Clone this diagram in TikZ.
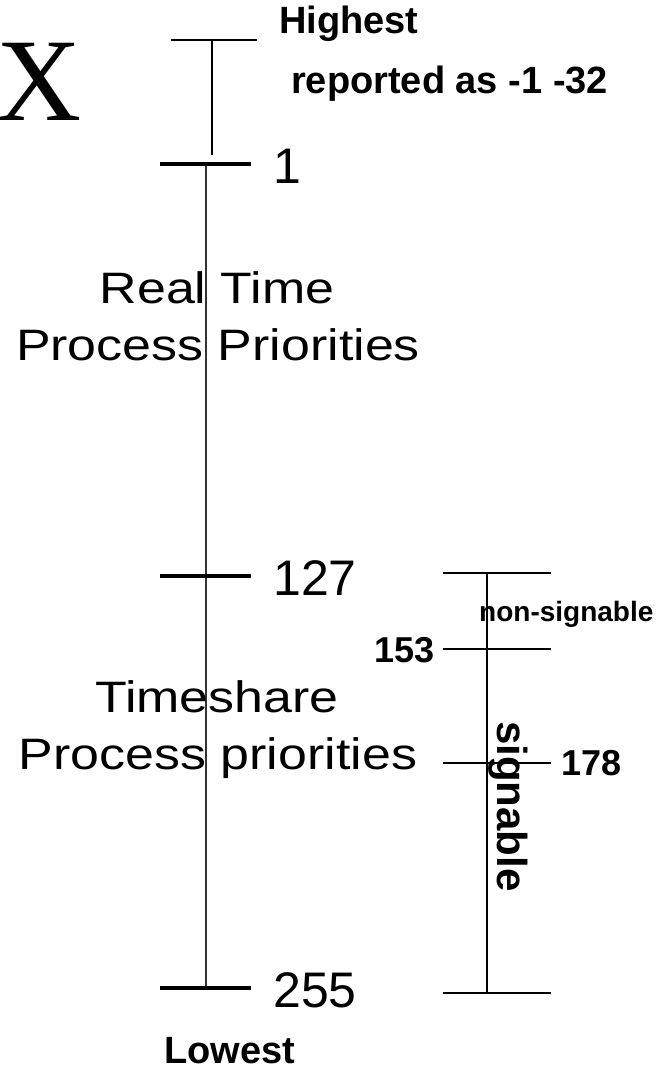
\documentclass[tikz,border=0pt]{standalone}
\usepackage{fontspec}
\usepackage{graphicx}
\setmainfont{Liberation Sans}
\newfontfamily\serifX{Liberation Serif}
\newcommand{\widen}[1]{\scalebox{1.18}[1]{#1}}

\begin{document}
\begin{tikzpicture}[x=1pt, y=-1pt,
    tickmark/.style={line width=3.5pt},
    bar/.style={line width=1.6pt},
    numlabel/.style={anchor=west, inner sep=0pt, font=\fontsize{50}{50}\selectfont},
    caption/.style={anchor=base, inner sep=0pt, font=\fontsize{44}{44}\selectfont},
    boldlabel/.style={inner sep=0pt, font=\bfseries\fontsize{38}{38}\selectfont}]
    \useasboundingbox (0,0) rectangle (666,1072);
    \node[anchor=base west, inner sep=0pt, font=\serifX\fontsize{118}{118}\selectfont] (bigX) at (-4,120) {X};
    % Highest
    \coordinate (hiL) at (171,40);
    \coordinate (hiR) at (257,40);
    \coordinate (hiTop) at (212,40);
    \coordinate (hiBot) at (212,155);
    \draw[bar] (hiL) -- (hiR);
    \draw[line width=2pt] (hiTop) -- (hiBot);
    \node[boldlabel, anchor=base west] (highest) at (279,33) {Highest};
    \node[boldlabel, anchor=base west] (reported) at (291,93) {reported as -1 -32};
    % Priority scale
    \coordinate (scaleTop) at (206,164);
    \coordinate (scaleBot) at (206,988);
    \draw[line width=2pt, black!80] (scaleTop) -- (scaleBot);
    \foreach \y/\lab in {164/1, 576/127, 988/255} {
        \draw[tickmark] (160,\y) -- (251,\y);
        \node[numlabel] (p\lab) at (273,\y+2) {\lab};
    }
    \node[caption] (rt1) at (217,303) {\widen{Real Time}};
    \node[caption] (rt2) at (218,360) {\widen{Process Priorities}};
    \node[caption] (ts1) at (217,712) {\widen{Timeshare}};
    \node[caption] (ts2) at (218,769) {\widen{Process priorities}};
    \node[boldlabel, anchor=base west] (lowest) at (164,1063) {Lowest};
    % Signable range
    \coordinate (sgTop) at (487,573);
    \coordinate (sgBot) at (487,993);
    \draw[line width=2.2pt] (sgTop) -- (sgBot);
    \foreach \y in {573,649,763,993}
        \draw[bar] (443,\y) -- (551,\y);
    \node[boldlabel, anchor=base east, font=\bfseries\fontsize{36}{36}\selectfont] (n153) at (435,662) {153};
    \node[boldlabel, anchor=base west, font=\bfseries\fontsize{36}{36}\selectfont] (n178) at (561,775) {178};
    \node[inner sep=0pt, anchor=base west, font=\bfseries\fontsize{28}{28}\selectfont] (nonsig) at (479,621) {non-signable};
    \node[inner sep=0pt, anchor=base west, rotate=-90, font=\bfseries\fontsize{42}{42}\selectfont] (sig) at (497,721) {signable};
\end{tikzpicture}
\end{document}
